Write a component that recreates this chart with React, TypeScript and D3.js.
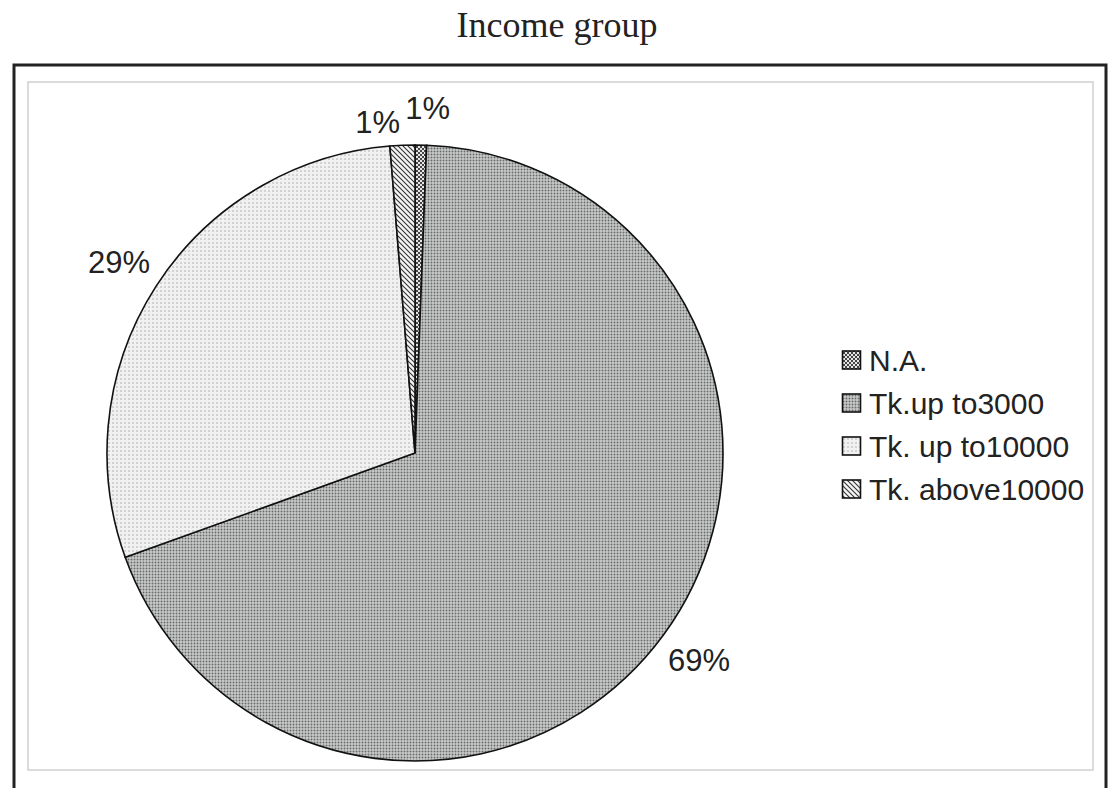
import React, { useMemo } from 'react';
import * as d3 from 'd3';

// slice data, clockwise from 12 o'clock
const categories = ['N.A.', 'Tk.up to3000', 'Tk. up to10000', 'Tk. above10000'];
const shares = [0.6, 68.9, 29.2, 1.3];
const labels = ['1%', '69%', '29%', '1%'];
const patternIds = ['pNA', 'p3000', 'p10000', 'pAbove'];

const W = 1108;
const H = 788;
const cx = 415;
const cy = 453;
const radius = 308;

const App = () => {
  const slices = useMemo(() => d3.pie<number>().sort(null).value(d => d)(shares), []);

  const arc = d3.arc<d3.PieArcDatum<number>>().innerRadius(0).outerRadius(radius);
  const labelArc = d3.arc<d3.PieArcDatum<number>>().innerRadius(352).outerRadius(352);

  // label positions; when two small neighbours collide they get spread apart
  const labelPos = useMemo(() => {
    const pts = slices.map(s => labelArc.centroid(s));
    const minGap = 50;
    for (let i = 0; i < pts.length; i++) {
      for (let j = i + 1; j < pts.length; j++) {
        const dx = pts[j][0] - pts[i][0];
        const dy = pts[j][1] - pts[i][1];
        if (Math.abs(dx) < minGap && Math.abs(dy) < 30) {
          const [l, r] = dx >= 0 ? [i, j] : [j, i];
          pts[r][0] += 6;
          pts[l][0] = pts[r][0] - minGap;
          pts[l][1] += 21;
          pts[r][1] += 7;
        }
      }
    }
    return pts;
  }, [slices]);

  return (
    <svg width={W} height={H} style={{ position: 'absolute', left: 0, top: 0, background: '#fff' }}>
      <defs>
        <pattern id="pNA" width="4" height="4" patternUnits="userSpaceOnUse">
          <rect width="4" height="4" fill="#e6e6e6" />
          <path d="M0,0 L4,4 M4,0 L0,4" stroke="#333" strokeWidth="0.9" />
        </pattern>
        <pattern id="p3000" width="3" height="3" patternUnits="userSpaceOnUse">
          <rect width="3" height="3" fill="#c9cbca" />
          <circle cx="1.5" cy="1.5" r="0.95" fill="#666a68" />
        </pattern>
        <pattern id="p10000" width="4" height="4" patternUnits="userSpaceOnUse">
          <rect width="4" height="4" fill="#f1f1f1" />
          <circle cx="2" cy="2" r="0.8" fill="#a9abaa" />
        </pattern>
        <pattern id="pAbove" width="5" height="5" patternUnits="userSpaceOnUse">
          <rect width="5" height="5" fill="#f4f4f4" />
          <path d="M-1,-1 L6,6 M-1,4 L1,6 M4,-1 L6,1" stroke="#333" strokeWidth="1.1" />
        </pattern>
      </defs>

      <text x={557} y={37} textAnchor="middle" fontFamily="'Liberation Serif', serif" fontSize={36} fill="#222">
        Income group
      </text>

      {/* chart frame */}
      <rect x={14} y={65} width={1092} height={760} fill="none" stroke="#222" strokeWidth={3} />
      <rect x={28} y={82} width={1065} height={688} fill="none" stroke="#d0d0d0" strokeWidth={1.5} />

      <g transform={`translate(${cx},${cy})`}>
        {slices.map((s, i) => (
          <path key={categories[i]} d={arc(s) || ''} fill={`url(#${patternIds[i]})`} stroke="#111" strokeWidth={1.6} />
        ))}
        {slices.map((s, i) => (
          <text
            key={'l' + i}
            x={labelPos[i][0]}
            y={labelPos[i][1]}
            textAnchor="middle"
            dominantBaseline="central"
            fontFamily="'Liberation Sans', Arial, sans-serif"
            fontSize={31}
            fill="#222"
          >
            {labels[i]}
          </text>
        ))}
      </g>

      <g transform="translate(842,351)">
        {categories.map((c, i) => (
          <g key={c} transform={`translate(0,${i * 43})`}>
            <rect x={0.5} y={0} width={18} height={18} fill={`url(#${patternIds[i]})`} stroke="#111" strokeWidth={1.6} />
            <text x={27} y={9} dominantBaseline="central" fontFamily="'Liberation Sans', Arial, sans-serif" fontSize={30} fill="#222">
              {c}
            </text>
          </g>
        ))}
      </g>
    </svg>
  );
};

export default App;
